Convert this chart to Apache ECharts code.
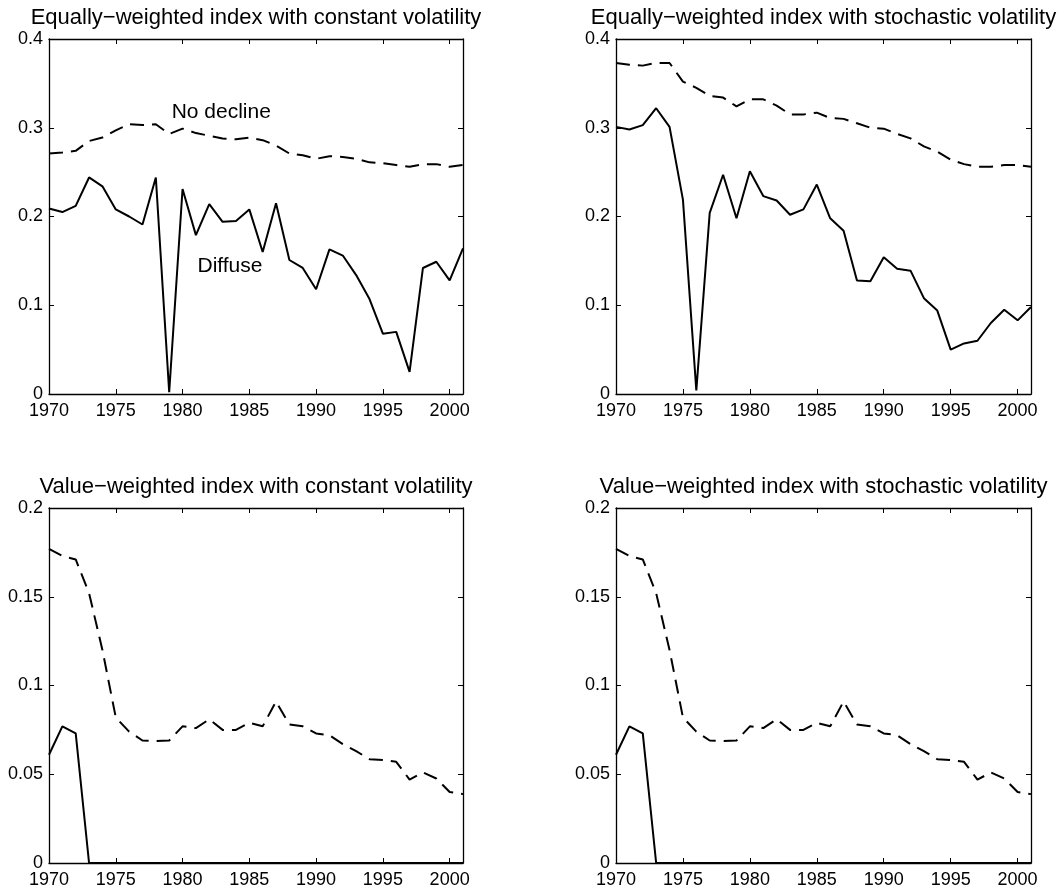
<!DOCTYPE html>
<html>
<head>
<meta charset="utf-8">
<script src="https://cdn.jsdelivr.net/npm/echarts@6/dist/echarts.min.js"></script>
<style>
  html, body { margin: 0; padding: 0; background: #fff; }
  #chart { width: 1062px; height: 892px; }
</style>
</head>
<body>
<div id="chart"></div>
<script>
// years on the x axis
var years = [];
for (var y = 1970; y <= 2001; y++) years.push(y);

// equally-weighted, constant volatility
var eqConstDiffuse = [0.209, 0.205, 0.212, 0.244, 0.234, 0.208, 0.200, 0.191, 0.244, 0.002,
  0.231, 0.179, 0.214, 0.194, 0.195, 0.208, 0.160, 0.215, 0.151, 0.142,
  0.118, 0.163, 0.156, 0.134, 0.107, 0.068, 0.070, 0.025, 0.142, 0.149, 0.128, 0.164];
var eqConstNoDecline = [0.271, 0.272, 0.274, 0.285, 0.289, 0.297, 0.304, 0.303, 0.304, 0.293,
  0.299, 0.294, 0.291, 0.288, 0.287, 0.289, 0.286, 0.280, 0.271, 0.269,
  0.265, 0.268, 0.267, 0.265, 0.261, 0.260, 0.258, 0.256, 0.259, 0.259, 0.256, 0.258];

// equally-weighted, stochastic volatility
var eqStochDiffuse = [0.301, 0.298, 0.303, 0.322, 0.301, 0.219, 0.004, 0.204, 0.247, 0.198,
  0.251, 0.223, 0.218, 0.202, 0.208, 0.236, 0.198, 0.184, 0.128, 0.127,
  0.154, 0.141, 0.139, 0.108, 0.094, 0.050, 0.057, 0.060, 0.080, 0.095, 0.083, 0.098];
var eqStochNoDecline = [0.373, 0.371, 0.370, 0.373, 0.373, 0.352, 0.345, 0.336, 0.334, 0.324,
  0.332, 0.332, 0.325, 0.315, 0.315, 0.317, 0.311, 0.310, 0.305, 0.300,
  0.299, 0.293, 0.288, 0.279, 0.273, 0.264, 0.259, 0.256, 0.256, 0.258, 0.258, 0.256];

// value-weighted, constant volatility
var vwConstDiffuse = [0.061, 0.077, 0.073, 0, 0, 0, 0, 0, 0, 0,
  0, 0, 0, 0, 0, 0, 0, 0, 0, 0,
  0, 0, 0, 0, 0, 0, 0, 0, 0, 0, 0, 0];
var vwConstNoDecline = [0.177, 0.173, 0.171, 0.152, 0.120, 0.082, 0.074, 0.069, 0.0687, 0.069,
  0.077, 0.076, 0.081, 0.075, 0.075, 0.079, 0.077, 0.091, 0.078, 0.077,
  0.073, 0.072, 0.067, 0.063, 0.0585, 0.058, 0.057, 0.047, 0.051, 0.0476, 0.040, 0.0388];

// value-weighted, stochastic volatility
var vwStochDiffuse = [0.061, 0.077, 0.073, 0, 0, 0, 0, 0, 0, 0,
  0, 0, 0, 0, 0, 0, 0, 0, 0, 0,
  0, 0, 0, 0, 0, 0, 0, 0, 0, 0, 0, 0];
var vwStochNoDecline = [0.177, 0.173, 0.171, 0.152, 0.120, 0.082, 0.074, 0.069, 0.0687, 0.069,
  0.077, 0.076, 0.081, 0.075, 0.075, 0.079, 0.077, 0.091, 0.078, 0.077,
  0.073, 0.072, 0.067, 0.063, 0.0585, 0.058, 0.057, 0.047, 0.051, 0.0476, 0.040, 0.0388];

var titles = [
  "Equally\u2212weighted index with constant volatility",
  "Equally\u2212weighted index with stochastic volatility",
  "Value\u2212weighted index with constant volatility",
  "Value\u2212weighted index with stochastic volatility"
];
var yMax = [0.4, 0.4, 0.2, 0.2];
var yStep = [0.1, 0.1, 0.05, 0.05];

var FONT = '"Liberation Sans", Arial, Helvetica, sans-serif';

var panels = [
  { left: 49, top: 39, width: 414, height: 355, solid: eqConstDiffuse, dashed: eqConstNoDecline },
  { left: 616, top: 39, width: 415, height: 355, solid: eqStochDiffuse, dashed: eqStochNoDecline },
  { left: 49, top: 508, width: 414, height: 355, solid: vwConstDiffuse, dashed: vwConstNoDecline },
  { left: 616, top: 508, width: 415, height: 355, solid: vwStochDiffuse, dashed: vwStochNoDecline }
];

function pairs(vals) {
  return vals.map(function (v, i) { return [years[i], v]; });
}

var grid = [], xAxis = [], yAxis = [], series = [], graphic = [];

panels.forEach(function (p, k) {
  grid.push({ left: p.left, top: p.top, width: p.width, height: p.height, outerBoundsMode: 'none' });

  var xBase = {
    type: 'value', gridIndex: k, min: 1970, max: 2001, interval: 5,
    axisLine: { show: true, onZero: false, lineStyle: { color: '#000', width: 1.3 } },
    axisTick: { show: true, inside: true, length: 5, lineStyle: { color: '#000', width: 1 } },
    splitLine: { show: false }
  };
  // bottom axis with labels
  xAxis.push(Object.assign({}, xBase, {
    position: 'bottom',
    axisLabel: {
      color: '#000', fontSize: 18, fontFamily: FONT, margin: 8,
      formatter: function (v) { return v % 5 === 0 ? String(v) : ''; }
    }
  }));
  // top axis: box edge + ticks only
  xAxis.push(Object.assign({}, xBase, { position: 'top', axisLabel: { show: false } }));

  var yBase = {
    type: 'value', gridIndex: k, min: 0, max: yMax[k], interval: yStep[k],
    axisLine: { show: true, onZero: false, lineStyle: { color: '#000', width: 1.3 } },
    axisTick: { show: true, inside: true, length: 5, lineStyle: { color: '#000', width: 1 } },
    splitLine: { show: false }
  };
  yAxis.push(Object.assign({}, yBase, {
    position: 'left',
    axisLabel: {
      color: '#000', fontSize: 18, fontFamily: FONT, margin: 6,
      formatter: function (v) { return String(+v.toFixed(3)); }
    }
  }));
  yAxis.push(Object.assign({}, yBase, { position: 'right', axisLabel: { show: false } }));

  series.push({
    type: 'line', xAxisIndex: 2 * k, yAxisIndex: 2 * k,
    data: pairs(p.solid), showSymbol: false, symbol: 'none', silent: true,
    lineStyle: { color: '#000', width: 2 }
  });
  series.push({
    type: 'line', xAxisIndex: 2 * k, yAxisIndex: 2 * k,
    data: pairs(p.dashed), showSymbol: false, symbol: 'none', silent: true,
    lineStyle: { color: '#000', width: 2, type: [14, 8] }
  });

  graphic.push({
    type: 'text', silent: true,
    x: p.left + p.width / 2, y: p.top - 32,
    style: { text: titles[k], font: '22px ' + FONT, fill: '#000', textAlign: 'center', textVerticalAlign: 'top' }
  });
});

// curve labels in the first panel, placed in data coordinates
series[0].markPoint = {
  symbol: 'circle', symbolSize: 0, silent: true, animation: false,
  label: { show: true, position: 'inside', color: '#000', fontSize: 21, fontFamily: FONT,
    formatter: function (p) { return p.name; } },
  data: [{ name: 'Diffuse', coord: [1983.55, 0.1444] }]
};
series[1].markPoint = {
  symbol: 'circle', symbolSize: 0, silent: true, animation: false,
  label: { show: true, position: 'inside', color: '#000', fontSize: 21, fontFamily: FONT,
    formatter: function (p) { return p.name; } },
  data: [{ name: 'No decline', coord: [1982.9, 0.318] }]
};

var myChart = echarts.init(document.getElementById('chart'));
myChart.setOption({
  backgroundColor: '#fff',
  animation: false,
  grid: grid,
  xAxis: xAxis,
  yAxis: yAxis,
  series: series,
  graphic: graphic
});
window.onresize = function () { myChart.resize(); };
</script>
</body>
</html>
